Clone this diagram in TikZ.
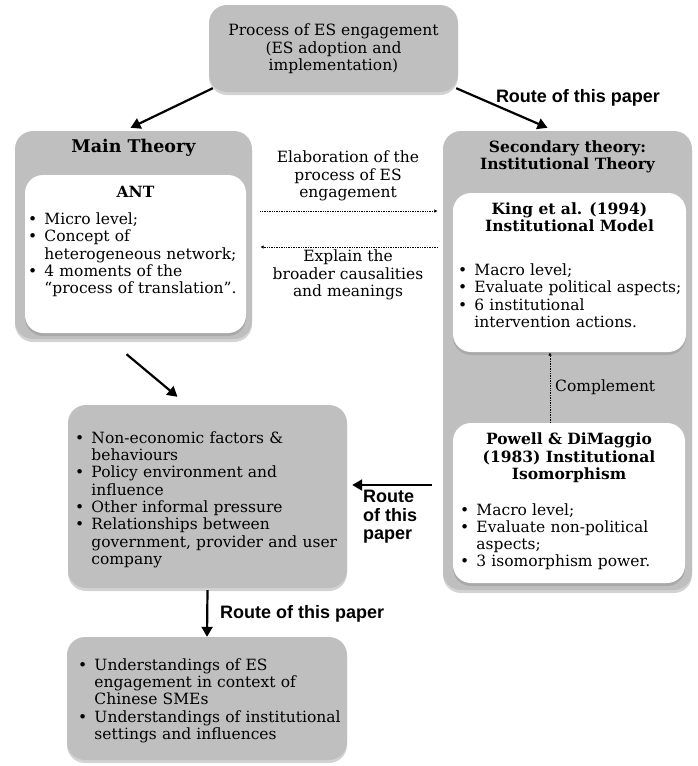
\documentclass[tikz,border=0pt]{standalone}
\usepackage{fontspec}
\setmainfont{DejaVu Serif}
\newfontfamily\routefont{Liberation Sans}
\usetikzlibrary{scopes,shadows,arrows.meta}

\definecolor{boxgray}{RGB}{191,191,191}
\newcommand{\bodysize}{\fontsize{15.5}{17.3}\selectfont}
\newcommand{\bitem}[1]{\par\hangindent=1.05em\hangafter=1\noindent\makebox[1.05em][l]{\textbullet}#1\par}

\begin{document}
\begin{tikzpicture}[x=1pt,y=-1pt,
    every node/.style={font=\bodysize},
    outer/.style={rectangle,rounded corners=18pt,fill=boxgray,inner sep=0pt,
        drop shadow={opacity=0.35,shadow xshift=0pt,shadow yshift=-3pt}},
    inner/.style={rectangle,rounded corners=18pt,fill=white,inner sep=0pt,
        drop shadow={opacity=0.35,shadow xshift=0pt,shadow yshift=-3pt}},
    title/.style={font=\bodysize\bfseries,align=center,inner sep=0pt},
    txt/.style={align=center,inner sep=0pt},
    blist/.style={text width=#1,anchor=west,inner sep=0pt},
    route/.style={font=\routefont\bfseries\fontsize{18}{18.5}\selectfont,align=left,inner sep=0pt},
    thickarr/.style={line width=2.2pt,-{Triangle[length=10pt,width=11pt]}},
    dotarr/.style={densely dotted,line width=0.7pt,-{Latex[length=3.5pt,width=3.5pt]}},
]
    \useasboundingbox (0,0) rectangle (698,766);

    %%%
    % Boxes
    \node[outer,minimum width=249pt,minimum height=87pt] (proc) at (333.5,48.5) {};
    \node[txt] (proctxt) at (333.5,49) {Process of ES engagement\\(ES adoption and\\implementation)};

    \node[outer,minimum width=237pt,minimum height=208pt] (main) at (133.5,235) {};
    \node[title,font=\fontsize{17.5}{19}\selectfont\bfseries] (maintitle) at (133.5,148) {Main Theory};
    \node[inner,minimum width=221pt,minimum height=158pt] (ant) at (135.5,254) {};
    \node[title] (anttitle) at (135.5,192) {ANT};
    \node[blist=212pt] (antlist) at (28,252) {%
        \bitem{Micro level;}
        \bitem{Concept of\newline heterogeneous network;}
        \bitem{4 moments of the\newline “process of translation”.}};

    \node[outer,minimum width=249pt,minimum height=459pt] (sec) at (567.5,360.5) {};
    \node[title] (sectitle) at (567.5,157) {Secondary theory:\\Institutional Theory};
    \node[inner,minimum width=233pt,minimum height=159pt] (king) at (569.5,272.5) {};
    \node[title] (kingtitle) at (569.5,217) {King et al. (1994)\\Institutional Model};
    \node[blist=226pt] (kinglist) at (458,293) {%
        \bitem{Macro level;}
        \bitem{Evaluate political aspects;}
        \bitem{6 institutional\newline intervention actions.}};

    \node[inner,minimum width=232pt,minimum height=160pt] (powell) at (569,503) {};
    \node[title] (powelltitle) at (569,458) {Powell \& DiMaggio\\(1983) Institutional\\Isomorphism};
    \node[blist=224pt] (powelllist) at (460,534) {%
        \bitem{Macro level;}
        \bitem{Evaluate non-political\newline aspects;}
        \bitem{3 isomorphism power.}};

    \node[outer,minimum width=279pt,minimum height=183pt] (factors) at (207.5,496.5) {};
    \node[blist=270pt] (factorslist) at (75,497) {%
        \bitem{Non-economic factors \&\newline behaviours}
        \bitem{Policy environment and\newline influence}
        \bitem{Other informal pressure}
        \bitem{Relationships between\newline government, provider and user\newline company}};

    \node[outer,minimum width=280pt,minimum height=123pt] (underst) at (207,698.5) {};
    \node[blist=265pt] (understlist) at (78,698) {%
        \bitem{Understandings of ES\newline engagement in context of\newline Chinese SMEs}
        \bitem{Understandings of institutional\newline settings and influences}};

    %%%
    % Labels between boxes
    \node[txt] (elab) at (348,176) {Elaboration of the\\process of ES\\engagement};
    \node[txt] (expl) at (348,275) {Explain the\\broader causalities\\and meanings};
    \node[txt,anchor=west] (compl) at (555,387) {Complement};
    \node[route] (routetop) at (578,98) {Route of this paper};
    \node[route,anchor=north west] (routemid) at (363,490) {Route\\of this\\paper};
    \node[route,anchor=west] (routedown) at (220,614) {Route of this paper};

    \coordinate (elabY) at (0,211);
    \coordinate (explY) at (0,247);
    \coordinate (routeY) at (0,485);

    %%%
    % Arrows
    {[thickarr]
        \draw ([shift={(4,-4)}]proc.south west) -- ([shift={(-3,-3)}]main.north);
        \draw ([shift={(-2,-4)}]proc.south east) -- ([shift={(-20,-3)}]sec.north);
        \draw ([shift={(-7,15)}]main.south) -- ([shift={(-30,-8)}]factors.north);
        \draw (sec.west |- routeY) ++(-11,0) -- ([xshift=5pt]factors.east |- routeY);
        \draw (factors.south) ++(0,2) -- (underst.north);
    }
    {[dotarr]
        \draw ([xshift=8pt]main.east |- elabY) -- ([xshift=-5pt]sec.west |- elabY);
        \draw ([xshift=-5pt]sec.west |- explY) -- ([xshift=8pt]main.east |- explY);
        \draw ([xshift=-19pt]powell.north) -- ([xshift=-19.5pt]king.south);
    }

\end{tikzpicture}
\end{document}
